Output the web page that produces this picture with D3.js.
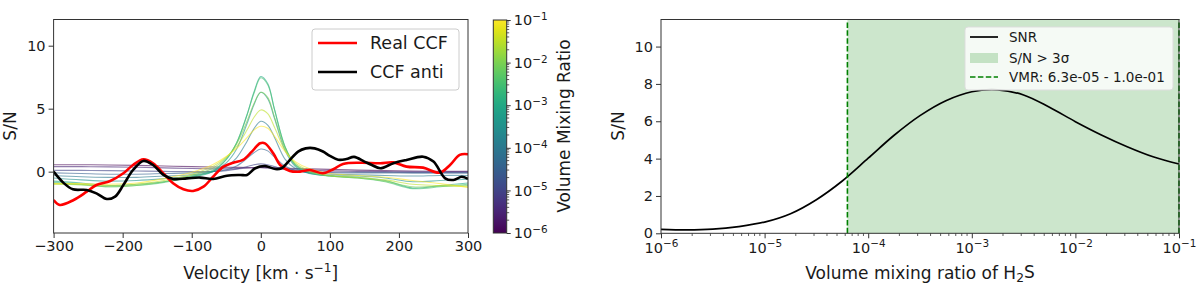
<!DOCTYPE html>
<html>
<head>
<meta charset="utf-8">
<script src="https://cdn.jsdelivr.net/npm/d3@7"></script>
<style>
body{margin:0;background:#fff}
text{font-family:"DejaVu Sans",sans-serif;fill:#1a1a1a}
</style>
</head>
<body>
<svg id="chart" width="1200" height="287"></svg>
<script>
// ---- data ----

// left panel : model CCFs, one per volume mixing ratio
var modelVel = [-300,-260,-220,-180,-140,-100,-70,-50,-35,-20,-10,0,10,20,35,50,70,100,140,180,220,260,300];
var modelVMR = [1e-6,3.2e-6,1e-5,3.2e-5,1e-4,3.2e-4,1e-3,3.2e-3,1e-2,3.2e-2,1e-1];
var modelSN = [
  [0.55,0.55,0.53,0.5,0.45,0.4,0.37,0.35,0.34,0.33,0.33,0.33,0.32,0.3,0.28,0.25,0.22,0.18,0.12,0.08,0.05,0.03,0.02],
  [0.4,0.4,0.38,0.35,0.3,0.25,0.22,0.22,0.24,0.28,0.3,0.32,0.3,0.26,0.2,0.15,0.1,0.06,0.02,0.0,-0.02,-0.03,-0.03],
  [0.1,0.1,0.08,0.05,0.02,0.0,0.02,0.08,0.2,0.4,0.55,0.62,0.55,0.4,0.18,0.05,-0.02,-0.05,-0.05,-0.05,-0.06,-0.06,-0.06],
  [-0.1,-0.15,-0.2,-0.2,-0.15,-0.1,0.0,0.15,0.45,1.05,1.5,1.8,1.65,1.15,0.45,0.1,-0.05,-0.1,-0.1,-0.1,-0.12,-0.12,-0.12],
  [-0.3,-0.4,-0.45,-0.45,-0.35,-0.25,0.0,0.4,1.1,2.4,3.4,4.0,3.7,2.7,1.0,0.25,-0.1,-0.2,-0.25,-0.3,-0.35,-0.3,-0.3],
  [-0.5,-0.65,-0.75,-0.7,-0.55,-0.35,0.0,0.7,1.8,3.8,5.3,6.3,5.8,4.2,1.7,0.4,-0.15,-0.3,-0.35,-0.5,-0.8,-0.7,-0.6],
  [-0.75,-0.9,-1.1,-1.0,-0.8,-0.45,0.0,0.95,2.27,4.5,6.3,7.55,7.0,4.9,1.98,0.5,-0.1,-0.35,-0.45,-0.7,-1.3,-1.1,-0.9],
  [-0.85,-1.0,-1.2,-1.1,-0.85,-0.4,0.1,1.0,2.3,4.5,6.2,7.45,6.9,4.9,2.0,0.55,-0.05,-0.35,-0.5,-0.8,-1.35,-1.2,-1.0],
  [-0.95,-1.05,-1.2,-1.1,-0.8,-0.3,0.25,1.1,2.2,4.0,5.4,6.3,5.9,4.3,1.9,0.6,0.0,-0.35,-0.5,-0.75,-1.2,-1.15,-1.1],
  [-1.0,-1.0,-1.1,-1.0,-0.7,-0.2,0.4,1.15,2.0,3.3,4.3,4.9,4.6,3.5,1.7,0.7,0.1,-0.3,-0.45,-0.65,-1.0,-1.1,-1.2],
  [-0.95,-0.95,-1.0,-0.9,-0.55,-0.05,0.55,1.2,1.85,2.7,3.3,3.6,3.45,2.8,1.6,0.8,0.25,-0.15,-0.3,-0.45,-0.7,-0.95,-1.25]
];

// left panel : observed CCF (red) and anti CCF (black)
var realVel = [-300,-291,-271,-252,-238,-218,-199,-185,-170,-156,-141,-127,-112,-98,-83,-69,-54,-40,-26,-13,-1,6,18,28,42,57,71,90,105,119,144,173,192,211,235,259,274,288,300];
var realSN  = [-2.25,-2.64,-2.25,-1.59,-1.06,-0.74,-0.13,0.53,0.98,0.67,-0.13,-0.92,-1.4,-1.53,-1.19,-0.4,0.4,0.71,0.93,1.59,2.25,2.25,1.46,0.53,0.06,0.0,0.13,-0.13,0.19,0.61,0.71,0.67,0.74,0.4,0.32,-0.08,0.53,1.33,1.38];
var antiVel = [-300,-286,-272,-252,-238,-223,-211,-199,-185,-170,-156,-141,-127,-107,-88,-69,-49,-30,-20,-8,6,21,30,40,54,65,78,90,100,112,124,135,150,160,173,192,211,235,250,267,279,291,300];
var antiSN  = [0.0,-0.87,-1.4,-1.45,-1.72,-2.17,-1.98,-1.06,0.13,0.85,0.53,-0.26,-0.58,-0.53,-0.47,-0.58,-0.32,-0.26,-0.26,0.27,0.45,0.21,0.27,0.8,1.59,1.85,1.85,1.6,1.25,0.95,1.0,1.17,0.8,0.55,0.27,0.67,0.93,1.19,0.8,-0.53,-0.66,-0.4,-0.58];

var velTicks = [-300,-200,-100,0,100,200,300];
var snTicksL = [0,5,10];
var cbTicks = [1e-6,1e-5,1e-4,1e-3,1e-2,1e-1];

// right panel : S/N against VMR (quarter-decade steps)
var snrVMR = [1e-6,1.78e-6,3.16e-6,5.62e-6,1e-5,1.78e-5,3.16e-5,5.62e-5,1e-4,1.78e-4,3.16e-4,5.62e-4,1e-3,1.78e-3,3.16e-3,5.62e-3,1e-2,1.78e-2,3.16e-2,5.62e-2,1e-1];
var snrVal = [0.21,0.18,0.22,0.36,0.6,1.05,1.8,2.8,4.02,5.25,6.3,7.1,7.58,7.68,7.41,6.75,5.98,5.27,4.64,4.1,3.71];
var detectRange = [6.3e-5,1e-1];
var snTicksR = [0,2,4,6,8,10];
var vmrTicks = [1e-6,1e-5,1e-4,1e-3,1e-2,1e-1];

var svg = d3.select("#chart");
var ink = "#333";

function supLabel(sel, d){
  // 10 with superscript exponent
  var e = Math.round(Math.log10(d));
  sel.text("10");
  sel.append("tspan").attr("dy","-0.5em").attr("font-size","0.72em").text("\u2212"+Math.abs(e));
}
function minorTicks(lo,hi){
  var out=[];
  for(var p=lo;p<hi;p++){ for(var k=2;k<10;k++){ out.push(k*Math.pow(10,p)); } }
  return out;
}

// ================= LEFT PANEL =================
var xV = d3.scaleLinear().domain([-300,300]).range([53.6,468]);
var yL = d3.scaleLinear().domain([-4.87,12.08]).range([233,19.5]);
var color = d3.scaleSequentialLog(d3.interpolateViridis).domain([1e-6,1e-1]);

svg.append("clipPath").attr("id","clipL").append("rect")
   .attr("x",xV(-300)).attr("y",yL(12.08)).attr("width",xV(300)-xV(-300)).attr("height",yL(-4.87)-yL(12.08));

var gL = svg.append("g").attr("clip-path","url(#clipL)");
var lineL = d3.line().curve(d3.curveCatmullRom.alpha(0.5));

modelSN.forEach(function(vals,i){
  gL.append("path")
    .attr("d", lineL(vals.map(function(s,j){return [xV(modelVel[j]), yL(s)];})))
    .attr("fill","none")
    .attr("stroke", color(modelVMR[i]))
    .attr("stroke-opacity",0.6)
    .attr("stroke-width",1.1);
});

gL.append("path")
  .attr("d", lineL(realSN.map(function(s,j){return [xV(realVel[j]), yL(s)];})))
  .attr("fill","none").attr("stroke","red").attr("stroke-width",2.6);
gL.append("path")
  .attr("d", lineL(antiSN.map(function(s,j){return [xV(antiVel[j]), yL(s)];})))
  .attr("fill","none").attr("stroke","black").attr("stroke-width",2.6);

// axes
var axB = svg.append("g").attr("transform","translate(0,233)")
  .call(d3.axisBottom(xV).tickValues(velTicks).tickSize(5).tickPadding(3)
        .tickFormat(function(d){return d<0 ? "\u2212"+Math.abs(d) : d;}));
var axLft = svg.append("g").attr("transform","translate(53.6,0)")
  .call(d3.axisLeft(yL).tickValues(snTicksL).tickSize(5).tickPadding(3));
[axB,axLft].forEach(function(a){
  a.select(".domain").remove();
  a.selectAll("line").attr("stroke",ink);
  a.selectAll("text").attr("font-size","14.5px").attr("font-family","DejaVu Sans").attr("fill","#1a1a1a");
});
svg.append("rect").attr("x",xV(-300)).attr("y",yL(12.08))
   .attr("width",xV(300)-xV(-300)).attr("height",yL(-4.87)-yL(12.08))
   .attr("fill","none").attr("stroke",ink).attr("stroke-width",1);

// labels
var velLab = svg.append("text").attr("x",xV(0)).attr("y",279).attr("text-anchor","middle").attr("font-size","17px");
velLab.append("tspan").text("Velocity [km \u00b7 s");
velLab.append("tspan").attr("dy","-0.55em").attr("font-size","0.72em").text("\u22121");
velLab.append("tspan").attr("dy","0.4em").text("]");
svg.append("text").attr("transform","translate(10,126) rotate(-90)")
   .attr("text-anchor","middle").attr("dy","0.35em").attr("font-size","17px").text("S/N");

// legend
var lg = svg.append("g");
lg.append("rect").attr("x",312).attr("y",29).attr("width",147).attr("height",61).attr("rx",3)
  .attr("fill","#fff").attr("fill-opacity",0.8).attr("stroke","#ccc");
[["Real CCF","red",43],["CCF anti","black",72]].forEach(function(e){
  lg.append("line").attr("x1",318).attr("x2",357).attr("y1",e[2]).attr("y2",e[2])
    .attr("stroke",e[1]).attr("stroke-width",2.6);
  lg.append("text").attr("x",370).attr("y",e[2]).attr("dy","0.36em").attr("font-size","17.5px").text(e[0]);
});

// colorbar
var cb = d3.scaleLog().domain([1e-6,1e-1]).range([233,20]);
var grad = svg.append("defs").append("linearGradient").attr("id","vir")
  .attr("x1","0").attr("y1","1").attr("x2","0").attr("y2","0");
d3.range(0,1.0001,0.05).forEach(function(t){
  grad.append("stop").attr("offset",t).attr("stop-color",d3.interpolateViridis(t));
});
svg.append("rect").attr("x",493.3).attr("y",20).attr("width",13.4).attr("height",213)
   .attr("fill","url(#vir)").attr("stroke",ink).attr("stroke-width",1);
var axCb = svg.append("g").attr("transform","translate(506.7,0)")
  .call(d3.axisRight(cb).tickValues(cbTicks).tickSize(4).tickPadding(3));
axCb.select(".domain").remove();
axCb.selectAll("line").attr("stroke",ink);
axCb.selectAll("text").attr("font-size","14.5px").attr("font-family","DejaVu Sans").attr("fill","#1a1a1a")
  .each(function(d){ supLabel(d3.select(this), d); });
svg.append("g").selectAll("line").data(minorTicks(-6,-1)).enter().append("line")
  .attr("x1",506.7).attr("x2",509.2).attr("y1",function(d){return cb(d);}).attr("y2",function(d){return cb(d);})
  .attr("stroke",ink).attr("stroke-width",0.8);
svg.append("text").attr("transform","translate(564,126) rotate(-90)")
   .attr("text-anchor","middle").attr("dy","0.35em").attr("font-size","17px").text("Volume Mixing Ratio");

// ================= RIGHT PANEL =================
var xR = d3.scaleLog().domain([1e-6,1e-1]).range([661,1179]);
var yR = d3.scaleLinear().domain([0,11.45]).range([233.3,19.5]);

svg.append("rect").attr("x",xR(detectRange[0])).attr("y",yR(11.45))
   .attr("width",xR(detectRange[1])-xR(detectRange[0])).attr("height",yR(0)-yR(11.45))
   .attr("fill","green").attr("fill-opacity",0.2);

svg.append("path")
   .attr("d", d3.line().curve(d3.curveCatmullRom.alpha(0.5))(snrVal.map(function(s,j){return [xR(snrVMR[j]), yR(s)];})))
   .attr("fill","none").attr("stroke","black").attr("stroke-width",1.7);

detectRange.forEach(function(v){
  svg.append("line").attr("x1",xR(v)).attr("x2",xR(v)).attr("y1",yR(0)).attr("y2",yR(11.45))
     .attr("stroke","green").attr("stroke-width",1.6).attr("stroke-dasharray","5.5,2.4");
});

var axRB = svg.append("g").attr("transform","translate(0,233.3)")
  .call(d3.axisBottom(xR).tickValues(vmrTicks).tickSize(5).tickPadding(4));
var axRL = svg.append("g").attr("transform","translate(661,0)")
  .call(d3.axisLeft(yR).tickValues(snTicksR).tickSize(5).tickPadding(3));
[axRB,axRL].forEach(function(a){
  a.select(".domain").remove();
  a.selectAll("line").attr("stroke",ink);
  a.selectAll("text").attr("font-size","14.5px").attr("font-family","DejaVu Sans").attr("fill","#1a1a1a");
});
axRB.selectAll("text").each(function(d){ supLabel(d3.select(this), d); });
svg.append("g").selectAll("line").data(minorTicks(-6,-1)).enter().append("line")
  .attr("x1",function(d){return xR(d);}).attr("x2",function(d){return xR(d);})
  .attr("y1",233.3).attr("y2",236)
  .attr("stroke",ink).attr("stroke-width",0.8);

svg.append("rect").attr("x",661).attr("y",yR(11.45)).attr("width",1179-661).attr("height",yR(0)-yR(11.45))
   .attr("fill","none").attr("stroke",ink).attr("stroke-width",1);

var vmrLab = svg.append("text").attr("x",920).attr("y",279).attr("text-anchor","middle").attr("font-size","17px");
vmrLab.append("tspan").text("Volume mixing ratio of H");
vmrLab.append("tspan").attr("dy","0.25em").attr("font-size","0.72em").text("2");
vmrLab.append("tspan").attr("dy","-0.25em").text("S");
svg.append("text").attr("transform","translate(618,126) rotate(-90)")
   .attr("text-anchor","middle").attr("dy","0.35em").attr("font-size","17px").text("S/N");

// legend right
var lr = svg.append("g");
lr.append("rect").attr("x",965).attr("y",27).attr("width",208).attr("height",63).attr("rx",3)
  .attr("fill","#fff").attr("fill-opacity",0.8).attr("stroke","#ddd");
lr.append("line").attr("x1",970).attr("x2",998).attr("y1",37).attr("y2",37).attr("stroke","black").attr("stroke-width",1.7);
lr.append("rect").attr("x",970).attr("y",53).attr("width",28).attr("height",10).attr("fill","green").attr("fill-opacity",0.2);
lr.append("line").attr("x1",970).attr("x2",998).attr("y1",77).attr("y2",77).attr("stroke","green")
  .attr("stroke-width",1.6).attr("stroke-dasharray","5.5,2.4");
[["SNR",37],["S/N > 3\u03c3",58],["VMR: 6.3e-05 - 1.0e-01",77]].forEach(function(e){
  lr.append("text").attr("x",1009).attr("y",e[1]).attr("dy","0.36em").attr("font-size","13.5px").text(e[0]);
});
</script>
</body>
</html>
